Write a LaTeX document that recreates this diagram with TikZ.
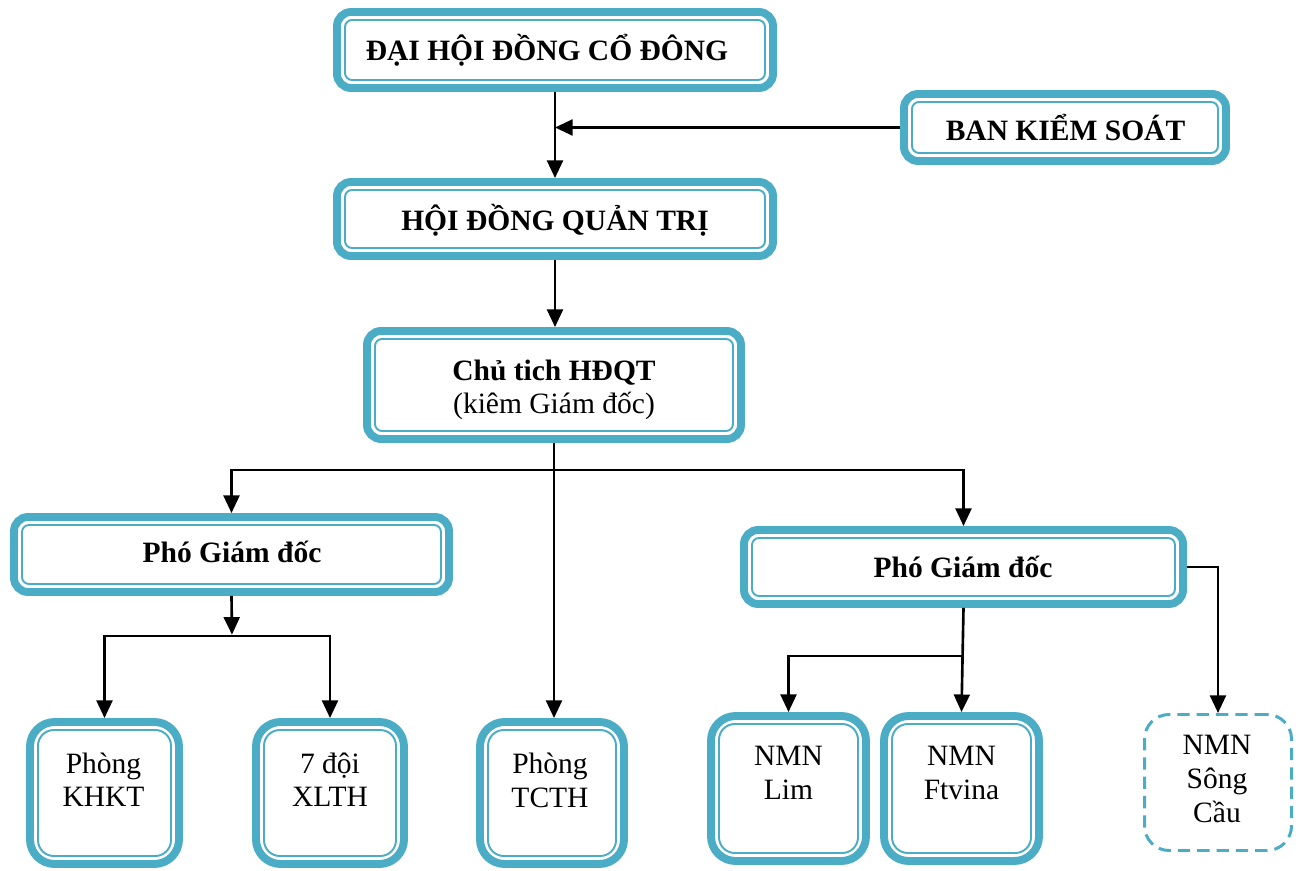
\documentclass[tikz,border=0pt]{standalone}
\usepackage{fontspec}
\setmainfont{Liberation Serif}
\usetikzlibrary{arrows.meta,calc}
\definecolor{tealc}{HTML}{4BACC6}
\tikzset{
  obox/.style={draw=tealc, line width=4.5pt, rounded corners=8pt, inner sep=0pt, fill=white},
  tbox/.style={obox, rounded corners=14pt},
  ibox/.style={draw=tealc, line width=1.1pt, rounded corners=4pt},
  itbox/.style={ibox, rounded corners=9pt},
  dbox/.style={draw=tealc, line width=1.7pt, dash pattern=on 7pt off 4pt, rounded corners=14pt, inner sep=0pt},
  conn/.style={line width=1.5pt, -{Triangle[length=10pt,width=9pt]}},
  txt/.style={font=\fontsize{16.8}{19.3}\selectfont, align=center, inner sep=0pt},
  btxt/.style={txt, font=\fontsize{16.8}{19.3}\selectfont\bfseries}
}
\newcommand\innerline[2]{%
  \draw[#2] ($(#1.south west)+(6.8pt,6.8pt)$) rectangle ($(#1.north east)+(-6.8pt,-6.8pt)$);}
\begin{document}
\begin{tikzpicture}[x=0.02cm, y=-0.02cm]
\useasboundingbox (0,0) rectangle (1302,871);
% boxes
\node[obox, minimum width=436*0.02cm, minimum height=76*0.02cm] (dh) at (555,50) {};
\node[obox, minimum width=322*0.02cm, minimum height=67*0.02cm] (bks) at (1065,127.5) {};
\node[obox, minimum width=436*0.02cm, minimum height=74*0.02cm] (hd) at (555,219) {};
\node[obox, minimum width=374*0.02cm, minimum height=108*0.02cm] (ct) at (554,385) {};
\node[obox, minimum width=435*0.02cm, minimum height=75*0.02cm] (pg1) at (231.5,554.5) {};
\node[obox, minimum width=439*0.02cm, minimum height=74*0.02cm] (pg2) at (963.5,567) {};
\node[tbox, minimum width=149*0.02cm, minimum height=142*0.02cm] (kh) at (104.5,793) {};
\node[tbox, minimum width=148*0.02cm, minimum height=142*0.02cm] (dx) at (330,793) {};
\node[tbox, minimum width=144*0.02cm, minimum height=142*0.02cm] (tc) at (552,793) {};
\node[tbox, minimum width=155*0.02cm, minimum height=145*0.02cm] (lim) at (788.5,788.5) {};
\node[tbox, minimum width=155*0.02cm, minimum height=145*0.02cm] (ft) at (961.5,788.5) {};
\node[dbox, minimum width=147*0.02cm, minimum height=136*0.02cm] (sc) at (1218,782.5) {};
% inner lines
\innerline{dh}{ibox}
\innerline{bks}{ibox}
\innerline{hd}{ibox}
\innerline{ct}{ibox}
\innerline{pg1}{ibox}
\innerline{pg2}{ibox}
\innerline{kh}{itbox}
\innerline{dx}{itbox}
\innerline{tc}{itbox}
\innerline{lim}{itbox}
\innerline{ft}{itbox}
% texts
\node[btxt] (tdh) at (547,52.2) {\strut ĐẠI HỘI ĐỒNG CỔ ĐÔNG};
\node[btxt] (tbks) at (1065.5,132.2) {\strut BAN KIỂM SOÁT};
\node[btxt] (thd) at (555,222.2) {\strut HỘI ĐỒNG QUẢN TRỊ};
\node[txt] (tct) at (554,390.2) {\strut\textbf{Chủ tich HĐQT}\\\strut(kiêm Giám đốc)};
\node[btxt] (tpg1) at (232,556.2) {\strut Phó Giám đốc};
\node[btxt] (tpg2) at (963,571.2) {\strut Phó Giám đốc};
\node[txt] (tkh) at (103.5,783.2) {\strut Phòng\\\strut KHKT};
\node[txt] (tdx) at (330,783.2) {\strut 7 đội\\\strut XLTH};
\node[txt] (ttc) at (550,783.7) {\strut Phòng\\\strut TCTH};
\node[txt] (tlim) at (788.5,775.7) {\strut NMN\\\strut Lim};
\node[txt] (tft) at (961.5,775.7) {\strut NMN\\\strut Ftvina};
\node[txt] (tsc) at (1217,781.7) {\strut NMN\\\strut Sông\\\strut Cầu};
% connectors
\coordinate (j1) at (554,470);
\coordinate (j2) at (232,636);
\coordinate (j3) at (962.5,656);
\draw[conn] (dh.south) -- (hd.north);
\draw[conn] (bks.west) -- (dh.south |- bks.west);
\draw[conn] (hd.south) -- (hd.south |- ct.north);
\draw[conn] (ct.south) -- (ct.south |- tc.north);
\draw[conn] (j1) -| (pg1.north);
\draw[conn] (j1) -| (pg2.north);
\draw[conn, shorten >=0.75pt] (pg1.south) -- (j2);
\draw[conn] (j2) -| (kh.north);
\draw[conn] (j2) -| (dx.north);
\draw[conn] (pg2.south) -- (ft.north);
\draw[conn] (j3) -| (lim.north);
\draw[conn] (pg2.east) -| (sc.north);
\end{tikzpicture}
\end{document}
